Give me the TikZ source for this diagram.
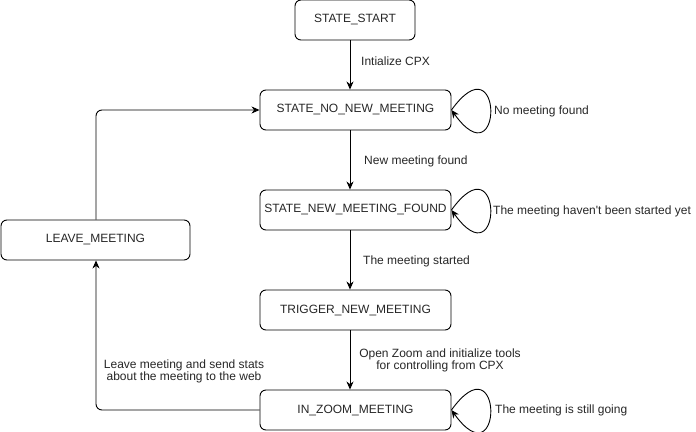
\documentclass[tikz,border=0pt]{standalone}
\usepackage{fontspec}
\setmainfont{Liberation Sans}[Ligatures=TeXOff]
\usetikzlibrary{arrows.meta}
\begin{document}
\begin{tikzpicture}[x=1pt,y=-1pt,
  statebox/.style={draw=black,line width=0.9pt,rounded corners=6pt,minimum height=40pt,inner sep=0pt,font=\fontsize{12}{14}\selectfont,text=black!85},
  conn/.style={line width=0.9pt,-{Stealth[length=8pt,width=7pt,inset=2.5pt]}},
  lbl/.style={font=\fontsize{12}{14}\selectfont,text=black!85,inner sep=0pt}]
\useasboundingbox (0,0) rectangle (696,431);
\node[statebox,minimum width=120pt] (start) at (355,20) {STATE\_START};
\node[statebox,minimum width=191pt] (nonew) at (355.5,110) {STATE\_NO\_NEW\_MEETING};
\node[statebox,minimum width=191pt] (found) at (355.5,210) {STATE\_NEW\_MEETING\_FOUND};
\node[statebox,minimum width=191pt] (trig) at (355.5,310) {TRIGGER\_NEW\_MEETING};
\node[statebox,minimum width=191pt] (zoom) at (355.5,410) {IN\_ZOOM\_MEETING};
\node[statebox,minimum width=189pt] (leave) at (95.5,240) {LEAVE\_MEETING};
\coordinate (ax) at (350,0);
\coordinate (lx) at (96,0);
% vertical chain
\draw[conn] (start.south -| ax) -- (nonew.north -| ax);
\draw[conn] (nonew.south -| ax) -- (found.north -| ax);
\draw[conn] (found.south -| ax) -- (trig.north -| ax);
\draw[conn] (trig.south -| ax) -- (zoom.north -| ax);
% edge labels
\node[lbl,anchor=west] (l1) at (361,61) {Intialize CPX};
\node[lbl,anchor=west] (l2) at (364,161) {New meeting found};
\node[lbl,anchor=west] (l3) at (363,261) {The meeting started};
\node[lbl,align=center] (l4) at (440,360.5) {Open Zoom and initialize tools\\[-1.5pt]for controlling from CPX};
\node[lbl,align=center] (l5) at (184,371.5) {Leave meeting and send stats\\[-1.5pt]about the meeting to the web};
% self loops
\draw[conn] (nonew.east) .. controls +(52,-72) and +(52,72) .. (nonew.east);
\draw[conn] (found.east) .. controls +(52,-72) and +(52,72) .. (found.east);
\draw[conn] (zoom.east) .. controls +(52,-72) and +(52,72) .. (zoom.east);
\node[lbl,anchor=west] (s1) at (494,111) {No meeting found};
\node[lbl,anchor=west] (s2) at (493,211) {The meeting haven't been started yet};
\node[lbl,anchor=west] (s3) at (495,410) {The meeting is still going};
% side loop
\draw[conn,rounded corners=6pt] (zoom.west) -| (leave.south -| lx);
\draw[conn,rounded corners=6pt] (leave.north -| lx) |- (nonew.west);
\end{tikzpicture}
\end{document}
